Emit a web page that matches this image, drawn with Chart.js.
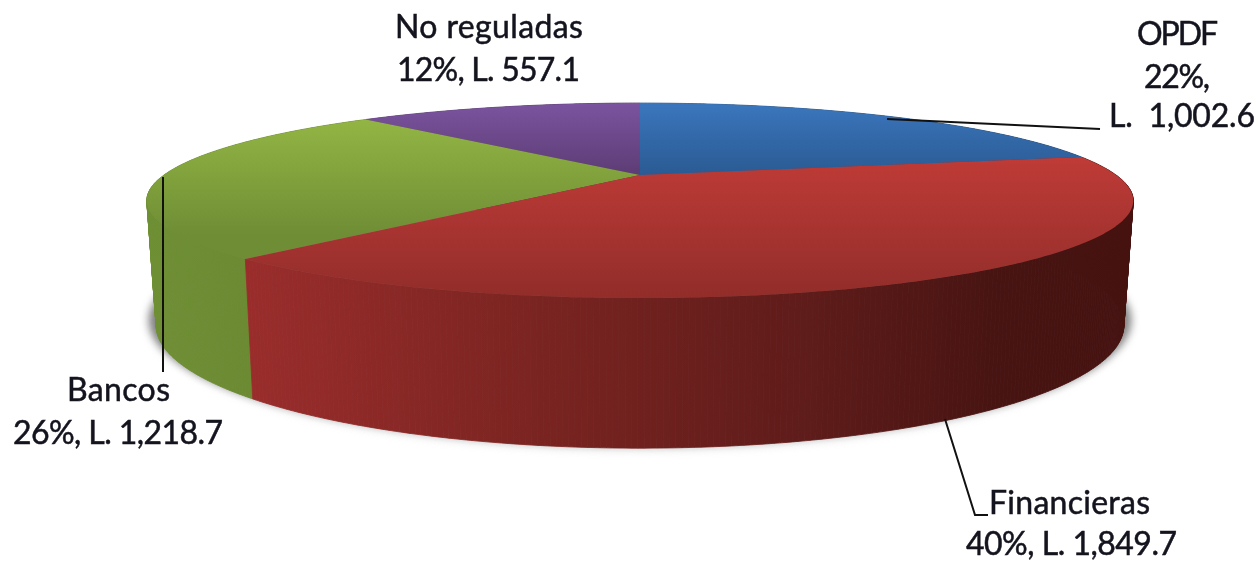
<!DOCTYPE html>
<html><head><meta charset="utf-8">
<style>html,body{margin:0;padding:0;background:#fff}canvas{display:block;filter:blur(0.5px)}</style>
<script src="https://cdn.jsdelivr.net/npm/chart.js@4"></script>
</head><body><canvas id="c" width="1258" height="561"></canvas>
<script>
const categories = ['OPDF','Financieras','Bancos','No reguladas'];
const amounts = [1002.6,1849.7,1218.7,557.1];
const labelLines = [
  ['OPDF','22%,','L.  1,002.6'],
  ['Financieras','40%, L. 1,849.7'],
  ['Bancos','26%, L. 1,218.7'],
  ['No reguladas','12%, L. 557.1']
];
const K = 0.262;
const TOP = {cx:640, cy:175, rx:476, ry:90.8};
const BOT = {cx:640, cy:293, rx:467, ry:114.5};
function proj(p,t){ // t: angle in Chart.js radians
  const a=t+Math.PI/2, X=Math.sin(a), Y=-Math.cos(a), w=1-K*Y;
  return [p.cx+p.rx*X/w, p.cy+p.ry*Y/w];
}
function arcPts(p,a,b){const n=Math.max(2,Math.ceil(Math.abs(b-a)/0.01)),r=[];
  for(let i=0;i<=n;i++)r.push(proj(p,a+(b-a)*i/n));return r;}
function poly(ctx,pts){ctx.beginPath();pts.forEach((q,i)=>i?ctx.lineTo(q[0],q[1]):ctx.moveTo(q[0],q[1]));ctx.closePath();}
const faceStops=[
  [[103,'#3b76bd'],[176,'#2a5a92']],
  [[157,'#bf3b37'],[298,'#912d2a']],
  [[119,'#93b544'],[235,'#6f8d35']],
  [[103,'#7b549f'],[176,'#5c3c74']]
];
const wallStops=[
  [[640,'#2a5a92'],[1080,'#1f4570']],
  [[245,'#9a2d2c'],[500,'#7e2522'],[800,'#5f1c1a'],[1000,'#471412'],[1133,'#451210']],
  [[146,'#6f8f35'],[250,'#6c8a32']],
  [[366,'#5c3c74'],[640,'#4c3060']]
];
const pie3d={id:'pie3d',
  beforeDatasetsDraw(chart){
    const ctx=chart.ctx, arcs=chart.getDatasetMeta(0).data;
    ctx.save();
    ctx.save();
    ctx.filter='blur(4px)';
    ctx.fillStyle='rgba(95,95,95,0.8)';
    const s={cx:640,cy:288,rx:474,ry:114.5};
    poly(ctx,arcPts(s,0,Math.PI*2));ctx.fill();
    ctx.fillStyle='rgba(150,150,150,0.35)';
    const s2={cx:640,cy:294.5,rx:466,ry:114.5};
    poly(ctx,arcPts(s2,0,Math.PI*2));ctx.fill();
    ctx.restore();
    [3,0,2,1].forEach(i=>{
      const a=arcs[i], top=arcPts(TOP,a.startAngle,a.endAngle), bot=arcPts(BOT,a.startAngle,a.endAngle);
      const st=wallStops[i], g=ctx.createLinearGradient(st[0][0],0,st[st.length-1][0],0);
      st.forEach(q=>g.addColorStop((q[0]-st[0][0])/(st[st.length-1][0]-st[0][0]),q[1]));
      ctx.fillStyle=g;ctx.strokeStyle=g;ctx.lineWidth=0.8;
      for(let k=0;k<top.length-1;k++){
        poly(ctx,[top[k],top[k+1],bot[k+1],bot[k]]);ctx.fill();ctx.stroke();
      }
    });
    [3,0,2,1].forEach(i=>{
      const a=arcs[i], apex=[TOP.cx,TOP.cy], pts=[apex].concat(arcPts(TOP,a.startAngle,a.endAngle));
      const st=faceStops[i], g=ctx.createLinearGradient(0,st[0][0],0,st[1][0]);
      g.addColorStop(0,st[0][1]);g.addColorStop(1,st[1][1]);
      ctx.fillStyle=g;poly(ctx,pts);ctx.fill();
    });
    ctx.restore();
    return false;
  },
  afterDraw(chart){
    const ctx=chart.ctx;
    ctx.save();
    ctx.strokeStyle='#111';ctx.lineWidth=2;ctx.lineJoin='miter';
    [[[887,119],[1100,129]],[[163,177],[163,372]],[[945,419],[975,515],[988,515]]].forEach(l=>{
      ctx.beginPath();l.forEach((q,i)=>i?ctx.lineTo(q[0],q[1]):ctx.moveTo(q[0],q[1]));ctx.stroke();
    });
    ctx.fillStyle='#14141e';ctx.strokeStyle='#14141e';ctx.lineWidth=0.5;ctx.textBaseline='alphabetic';
    ctx.font='32px Lato';ctx.textAlign='left';
    const place=[ // left, baseline, ink width
      [[1137,45,81],[1144,88,66],[1109,127,146]],
      [[989,514,161],[966,555,211]],
      [[67,401,103],[13,444,210]],
      [[395,38,188],[397,81,183]]
    ];
    labelLines.forEach((lines,i)=>lines.forEach((t,j)=>{
      const [x,y,w]=place[i][j];
      ctx.letterSpacing='0px';
      const m=ctx.measureText(t).width;
      ctx.letterSpacing=((w-m)/(t.length-1)).toFixed(2)+'px';
      ctx.fillText(t,x,y);ctx.strokeText(t,x,y);
    }));
    ctx.restore();
  }
};
new Chart(document.getElementById('c'),{
  type:'pie',
  data:{labels:categories,datasets:[{data:amounts,backgroundColor:['#3b76bd','#bf3b37','#93b544','#7b549f'],borderWidth:0}]},
  options:{responsive:false,animation:false,rotation:0,
    plugins:{legend:{display:false},tooltip:{enabled:false},title:{display:false}}},
  plugins:[pie3d]
});
</script></body></html>
